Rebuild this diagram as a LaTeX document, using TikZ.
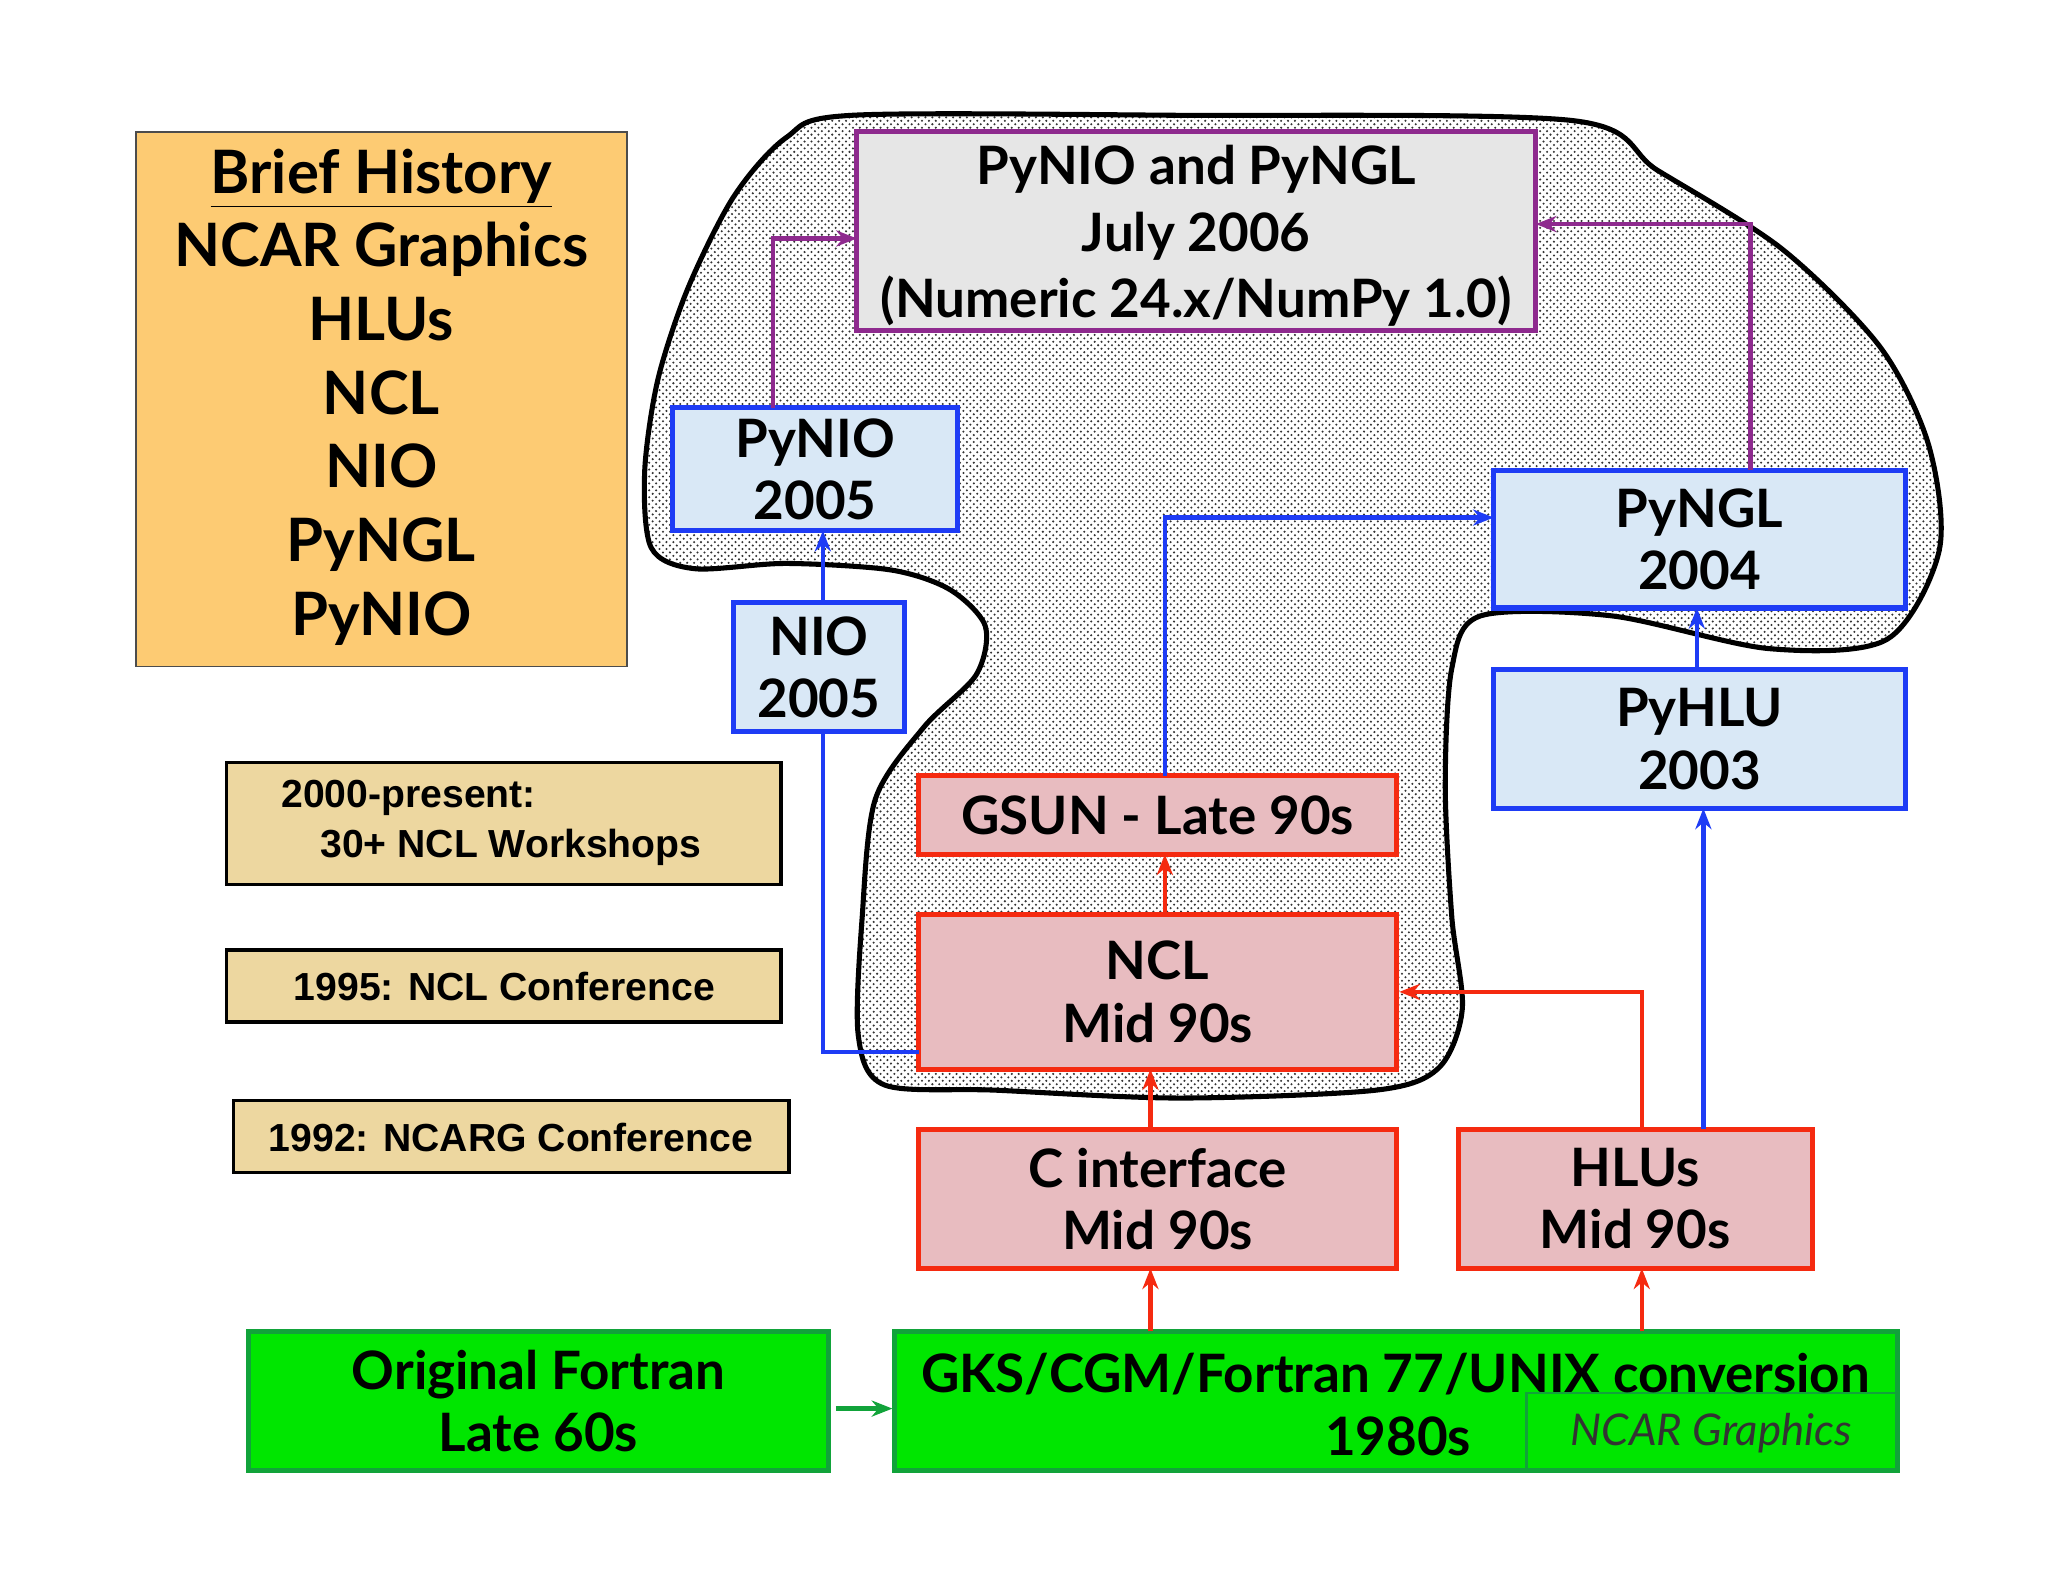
\documentclass[tikz,border=0pt]{standalone}
\usepackage{fontspec}
\setmainfont{Lato}
\newfontfamily\arialf{Liberation Sans}
\usetikzlibrary{patterns,arrows.meta}
\definecolor{orng}{HTML}{FDCB73}
\definecolor{tan}{HTML}{EDD7A0}
\definecolor{grn}{HTML}{00E600}
\definecolor{dgrn}{HTML}{11A33A}
\definecolor{pinkf}{HTML}{E8BCC0}
\definecolor{redb}{HTML}{F52A10}
\definecolor{bluef}{HTML}{D9E8F6}
\definecolor{blueb}{HTML}{1E3CF5}
\definecolor{purp}{HTML}{8E2A8E}
\definecolor{grayf}{HTML}{E6E6E6}
\begin{document}
\begin{tikzpicture}[x=0.02cm,y=-0.02cm,
  bx/.style={line width=2.2pt,align=center,inner sep=0},
  rbox/.style={bx,draw=redb,fill=pinkf},
  bbox/.style={bx,draw=blueb,fill=bluef},
  tbox/.style={draw=black,line width=1.5pt,fill=tan},
  T/.style={font=\fontsize{23}{27}\selectfont\bfseries,align=center},
  A/.style={font=\arialf\fontsize{17}{22}\selectfont\bfseries,align=left},
  ra/.style={draw=redb,line width=2pt,-{Stealth[length=9pt,width=7pt]}},
  ba/.style={draw=blueb,line width=2pt,-{Stealth[length=9pt,width=7pt]}},
  pa/.style={draw=purp,line width=2pt,-{Stealth[length=9pt,width=7pt]}}]
\useasboundingbox (0,0) rectangle (1563,1207);
\fill[white] (0,0) rectangle (1563,1207);
% blob
\draw[line width=2.2pt,pattern=crosshatch dots,pattern color=black!80]
 plot[smooth cycle,tension=0.5] coordinates {(600,105) (650,88) (900,88) (1200,92) (1265,130) (1360,190) (1435,265) (1472,340) (1480,420) (1440,488) (1350,495) (1230,470) (1130,470) (1108,510) (1103,600) (1108,700) (1116,770) (1098,815) (1050,832) (900,838) (760,832) (675,828) (655,790) (658,700) (668,610) (705,555) (745,515) (752,478) (725,450) (680,435) (600,430) (530,434) (497,418) (492,360) (502,290) (525,220) (560,150)};
% left boxes
\node[draw=black!70,fill=orng,line width=0.8pt,minimum width=375*0.02cm,minimum height=408*0.02cm,anchor=north west,inner sep=0] (hist) at (103,100) {};
\node[font=\fontsize{26}{32}\selectfont\bfseries,align=center] (histt) at (291,303) {\underline{Brief History}\\NCAR Graphics\\HLUs\\NCL\\NIO\\PyNGL\\PyNIO};
\draw[tbox] (173,582) rectangle (596,675);
\node[A] (w1) at (375,628) {2000-present:\\\hspace*{1em}30+ NCL Workshops};
\draw[tbox] (173,725) rectangle (596,780);
\node[A] (w2) at (385,753) {1995: NCL Conference};
\draw[tbox] (178,840) rectangle (602,895);
\node[A] (w3) at (390,868) {1992: NCARG Conference};
% green
\node[bx,draw=dgrn,fill=grn,minimum width=442*0.02cm,minimum height=106*0.02cm,T] (fort) at (411,1069) {Original Fortran\\Late 60s};
\node[bx,draw=dgrn,fill=grn,minimum width=765*0.02cm,minimum height=106*0.02cm] (gks) at (1065.5,1069) {};
\draw[dgrn,line width=1pt] (1165,1122) -- (1165,1063) -- (1448,1063);
\node[T] (gkst) at (1065,1049) {GKS/CGM/Fortran 77/UNIX conversion};
\node[T] (gksy) at (1067,1096) {1980s};
\node[font=\fontsize{19}{22}\selectfont\itshape\mdseries,text=black!80] (ncg) at (1306,1094) {NCAR Graphics};
% red
\node[rbox,minimum width=365*0.02cm,minimum height=106*0.02cm,T] (cint) at (883.5,915) {C interface\\Mid 90s};
\node[rbox,minimum width=270*0.02cm,minimum height=106*0.02cm,T] (hlu) at (1248,915) {HLUs\\Mid 90s};
\node[rbox,minimum width=365*0.02cm,minimum height=118*0.02cm,T] (ncl) at (883.5,757) {NCL\\Mid 90s};
\node[rbox,minimum width=365*0.02cm,minimum height=60*0.02cm,T] (gsun) at (883.5,622) {GSUN - Late 90s};
% blue
\node[bbox,minimum width=130*0.02cm,minimum height=98*0.02cm,T] (nio) at (625,509) {NIO\\2005};
\node[bbox,minimum width=218*0.02cm,minimum height=94*0.02cm,T] (pynio) at (622,358) {PyNIO\\2005};
\node[bbox,minimum width=314*0.02cm,minimum height=105*0.02cm,T] (pyngl) at (1297,411.5) {PyNGL\\2004};
\node[bbox,minimum width=314*0.02cm,minimum height=106*0.02cm,T] (pyhlu) at (1297,564) {PyHLU\\2003};
% purple
\node[bx,draw=purp,fill=grayf,minimum width=518*0.02cm,minimum height=152*0.02cm] (top) at (913,176) {};
\node[font=\fontsize{23}{29}\selectfont\bfseries,align=center] (topt) at (913,180) {PyNIO and PyNGL\\July 2006\\(Numeric 24.x/NumPy 1.0)};
% arrows
\coordinate (fa) at (638,1075);
\draw[draw=dgrn,line width=2pt,-{Stealth[length=9pt,width=7pt]}] (fa) -- (fa -| gks.west);
\draw[ra] (878,1016) -- (878,968);
\draw[ra] (1253,1016) -- (1253,968);
\draw[ra] (878,862) -- (878,816);
\draw[ra] (889,698) -- (889,652);
\draw[ra] (1253,862) -- (1253,757) -- (ncl.east);
\draw[ba] (1300,862) -- (1300,617);
\draw[ba] (1295,511) -- (1295,464);
\draw[ba] (889,592) -- (889,395) -- (1140,395);
\draw[draw=blueb,line width=2pt] (701,803) -- (628,803) -- (628,558);
\draw[ba] (628,460) -- (628,405);
\draw[pa] (590,311) -- (590,182) -- (654,182);
\draw[pa] (1336,359) -- (1336,171) -- (1172,171);
\end{tikzpicture}
\end{document}
